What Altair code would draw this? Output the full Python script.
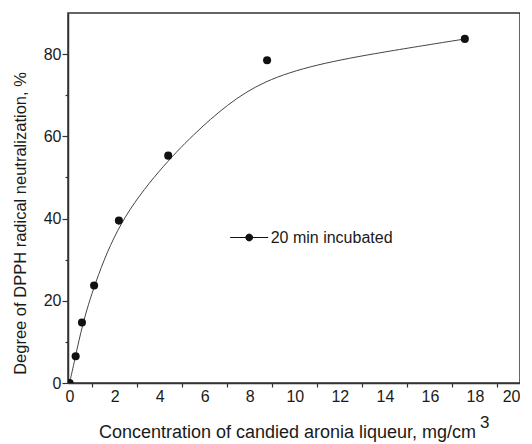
import altair as alt
import pandas as pd

conc = [0, 0.27, 0.55, 1.09, 2.19, 4.38, 8.77, 17.55]
dpph = [0, 6.5, 14.7, 23.7, 39.5, 55.3, 78.5, 83.7]
series_name = "20 min incubated"

# Fitted curve at several x positions
curve_x = [0, 0.27, 0.55, 1.09, 2.2, 4.0, 5.5, 7.0, 8.6, 10.9, 13.9, 17.58]
curve_y = [0, 6.6, 13.8, 23.9, 39.3, 52.0, 60.5, 67.8, 73.5, 77.5, 80.5, 83.7]

x_major = list(range(0, 21, 2))
x_minor = list(range(1, 20, 2))
y_major = list(range(0, 81, 20))
y_minor = list(range(10, 80, 20))

FONT = "Liberation Sans"
TXT = "#1a1a1a"
AX = "#333333"

pts_df = pd.DataFrame({"conc": conc, "dpph": dpph, "series": [series_name] * len(conc)})
curve_df = pd.DataFrame({"conc": curve_x, "dpph": curve_y})

x_scale = alt.Scale(domain=[-0.07, 20], nice=False, zero=False)
y_scale = alt.Scale(domain=[0, 90], nice=False)

x_axis_main = alt.Axis(
    orient="bottom", values=x_major,
    title="Concentration of candied aronia liqueur, mg/cm",
    titleFont=FONT, titleFontSize=18, titleFontWeight="normal", titleColor=TXT,
    titleX=219, titleY=54, titleBaseline="alphabetic", titleAlign="center",
    labelFont=FONT, labelFontSize=16, labelColor=TXT, labelPadding=5,
    ticks=False, domainColor=AX, domainWidth=1.5, grid=False,
)
x_axis_minor = alt.Axis(
    orient="bottom", values=x_minor, title=None, labels=False,
    tickSize=4, tickColor=AX, tickWidth=1.2, domain=False, grid=False,
)
y_axis_main = alt.Axis(
    orient="left", values=y_major,
    title="Degree of DPPH radical neutralization, %",
    titleFont=FONT, titleFontSize=16.5, titleFontWeight="normal", titleColor=TXT,
    titleX=-48, titleY=210, titleBaseline="middle", titleAlign="center",
    labelFont=FONT, labelFontSize=16, labelColor=TXT, labelPadding=1,
    tickSize=6, tickColor=AX, tickWidth=1.2, domainColor=AX, domainWidth=1.5, grid=False,
)
y_axis_minor = alt.Axis(
    orient="left", values=y_minor, title=None, labels=False,
    tickSize=3, tickColor=AX, tickWidth=1.2, domain=False, grid=False,
)

legend_symbol = "M-1,0H1M-0.18,0A0.18,0.18,0,1,1,0.18,0A0.18,0.18,0,1,1,-0.18,0Z"

curve = alt.Chart(curve_df).mark_line(
    interpolate="basis", color="#444444", strokeWidth=1
).encode(
    x=alt.X("conc:Q", scale=x_scale, axis=x_axis_minor),
    y=alt.Y("dpph:Q", scale=y_scale, axis=y_axis_minor),
)

points = alt.Chart(pts_df).mark_point(
    filled=True, size=65, opacity=1, clip=True
).encode(
    x=alt.X("conc:Q", scale=x_scale, axis=x_axis_main),
    y=alt.Y("dpph:Q", scale=y_scale, axis=y_axis_main),
    color=alt.Color(
        "series:N",
        scale=alt.Scale(domain=[series_name], range=["#111111"]),
        legend=alt.Legend(
            title=None, orient="none", legendX=161.7, legendY=205,
            symbolType=legend_symbol, symbolSize=1444,
            symbolFillColor="#111111", symbolStrokeColor="#111111", symbolStrokeWidth=1,
            labelFont=FONT, labelFontSize=16, labelColor=TXT, labelOffset=2,
            padding=0,
        ),
    ),
)

sup = alt.Chart(pd.DataFrame({"t": ["3"]})).mark_text(
    font=FONT, fontSize=17, color=TXT, align="left", baseline="alphabetic"
).encode(
    x=alt.value(412), y=alt.value(415), text="t:N"
)

chart = alt.layer(curve, points, sup).resolve_axis(
    x="independent", y="independent"
).properties(
    width=452, height=370,
    background="white",
    autosize=alt.AutoSizeParams(type="none"),
    padding={"left": 60, "top": 5, "right": 0, "bottom": 60},
).configure_view(
    stroke=AX, strokeWidth=1.5
)

chart.save("out.html", embed_options={"renderer": "svg", "actions": False})
